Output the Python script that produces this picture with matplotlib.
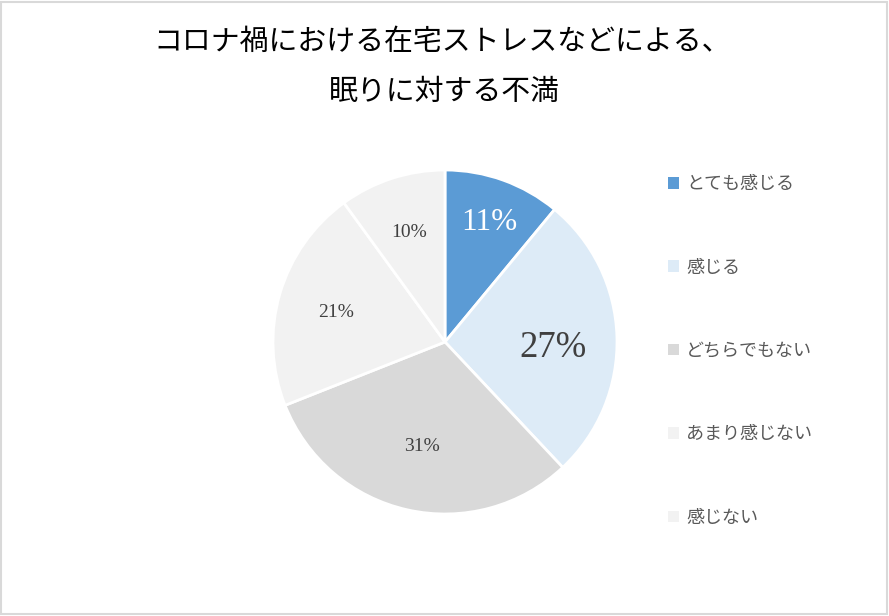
import matplotlib
matplotlib.use("Agg")
import matplotlib.pyplot as plt
from matplotlib.patches import Patch, Rectangle
import numpy as np

categories = ["とても感じる", "感じる", "どちらでもない", "あまり感じない", "感じない"]
values = [11, 27, 31, 21, 10]
colors = ["#5B9BD5", "#DDEBF7", "#D9D9D9", "#F2F2F2", "#F2F2F2"]
label_colors = ["#FFFFFF", "#404040", "#404040", "#404040", "#404040"]
label_sizes = [22.5, 26.5, 14, 14, 14]
label_dist = [0.76, 0.63, 0.61, 0.66, 0.68]
label_angle_shift = [0, -2.5, 0, 0, 0]
title_lines = ["コロナ禍における在宅ストレスなどによる、", "眠りに対する不満"]

W, H = 889, 616
fig = plt.figure(figsize=(W / 100, H / 100), dpi=100)
fig.patch.set_facecolor("white")

# border
fig.add_artist(Rectangle((1 / W, 2 / H), (W - 3) / W, (H - 4) / H,
                         transform=fig.transFigure, fill=False,
                         edgecolor="#D9D9D9", linewidth=1.5))

cx, cy, r = 445, 342, 172
ax = fig.add_axes([(cx - r) / W, (H - cy - r) / H, 2 * r / W, 2 * r / H])
wedges, _ = ax.pie(values, colors=colors, startangle=90, counterclock=False,
                   wedgeprops=dict(edgecolor="white", linewidth=2))
ax.set_xlim(-1, 1)
ax.set_ylim(-1, 1)
ax.set_aspect("equal")
ax.axis("off")

for w, v, c, s, d, da in zip(wedges, values, label_colors, label_sizes,
                             label_dist, label_angle_shift):
    ang = np.deg2rad((w.theta1 + w.theta2) / 2 + da)
    ax.text(d * np.cos(ang), d * np.sin(ang), f"{v}%", ha="center",
            va="center_baseline",
            color=c, fontsize=s, family=["Liberation Serif", "DejaVu Serif"])

jp = ["Noto Sans CJK JP", "DejaVu Sans"]
fig.text(0.497, 1 - 42 / H, title_lines[0], ha="center", va="center",
         fontsize=20.8, family=jp, color="#000000")
fig.text(0.5, 1 - 92 / H, title_lines[1], ha="center", va="center",
         fontsize=20.8, family=jp, color="#000000")

handles = [Patch(facecolor=c, edgecolor="none") for c in colors]
leg = fig.legend(handles, categories, loc="upper left",
                 bbox_to_anchor=(661 / W, 1 - 168 / H), frameon=False,
                 prop=dict(family=jp, size=13), labelcolor="#595959",
                 handlelength=0.6, handleheight=0.6, handletextpad=0.4,
                 labelspacing=3.62, borderaxespad=0)

fig.savefig("out.png", dpi=100, facecolor="white")
